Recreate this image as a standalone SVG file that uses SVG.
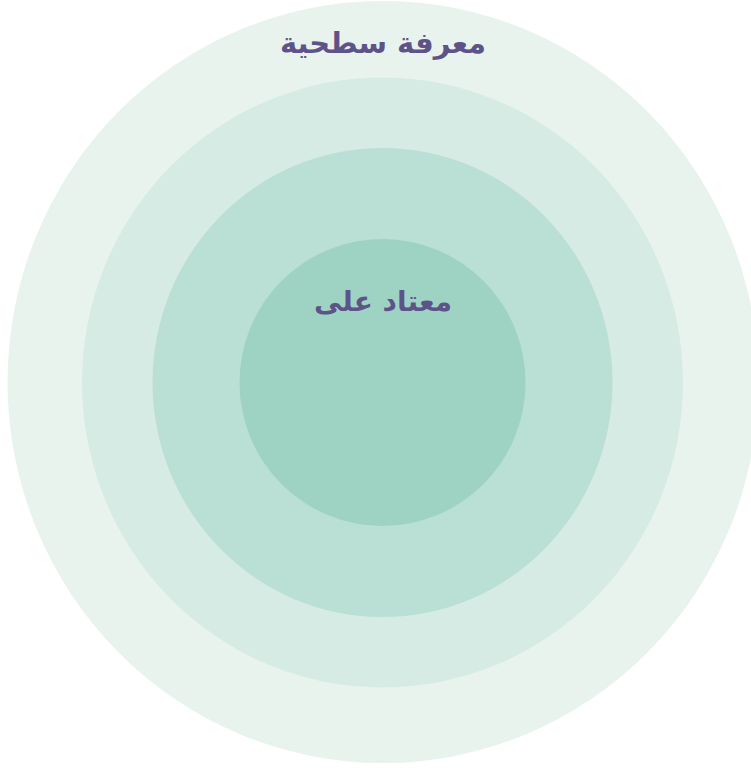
<svg xmlns="http://www.w3.org/2000/svg" width="751" height="769" viewBox="0 0 751 769">
<style>
.lbl{font-family:"DejaVu Sans","Noto Sans",sans-serif;font-weight:bold;fill:#5E5389;text-anchor:middle}
</style>
<rect width="751" height="769" fill="#ffffff"/>
<g id="ring4"><ellipse cx="383" cy="382" rx="375.5" ry="381" fill="#E8F3EE"/></g>
<g id="ring3"><ellipse cx="382.5" cy="382.5" rx="300.5" ry="305" fill="#D6EBE4"/></g>
<g id="ring2"><ellipse cx="382.5" cy="382.5" rx="230" ry="234.5" fill="#BADFD4"/></g>
<g id="ring1"><ellipse cx="382.5" cy="382.5" rx="143" ry="143.5" fill="#9ED3C4"/></g>
<g id="label-outer"><text class="lbl" x="383" y="53" font-size="29" direction="rtl">معرفة سطحية</text></g>
<g id="label-inner"><text class="lbl" x="383" y="311" font-size="28" direction="rtl">معتاد على</text></g>
</svg>
